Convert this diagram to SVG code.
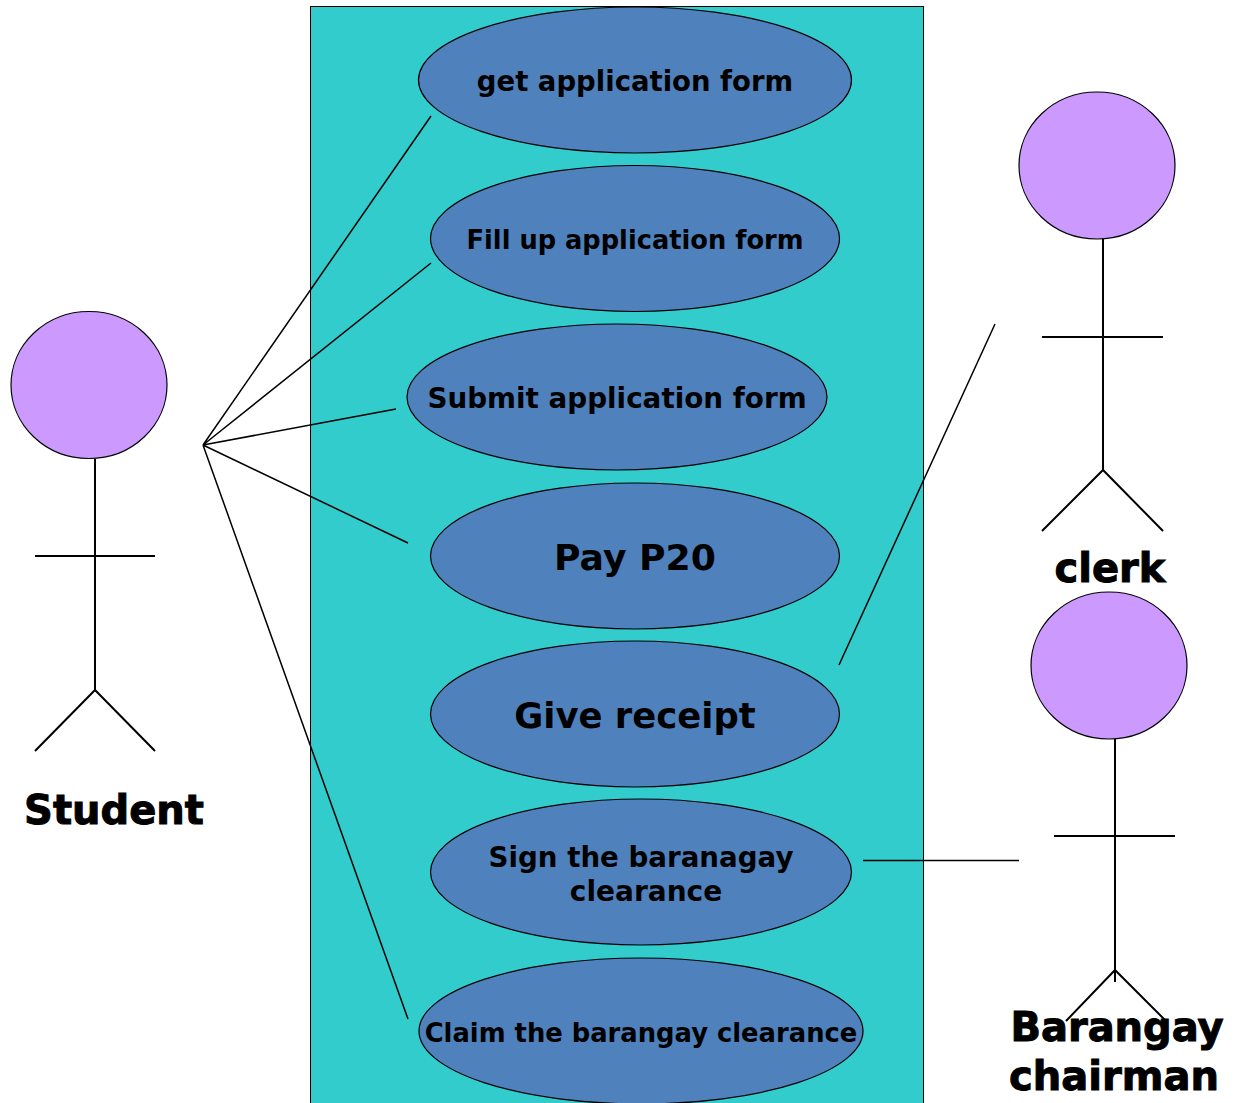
<svg xmlns="http://www.w3.org/2000/svg" width="1238" height="1103" viewBox="0 0 1238 1103">
<style>
.uc{fill:#4f81bd;stroke:#000;stroke-width:1.2}
.head{fill:#cc99ff;stroke:#000;stroke-width:1.2}
.ln{stroke:#000;stroke-width:2;fill:none}
.c{stroke:#000;stroke-width:1.5;fill:none}
text{font-family:"DejaVu Sans",sans-serif;font-weight:bold;fill:#000;text-anchor:middle}
.actor{font-size:40px;stroke:#000;stroke-width:1}
</style>
<rect width="1238" height="1103" fill="#fff"/>
<rect id="boundary" x="310.500" y="6.500" width="613" height="1100" fill="#33cccc" stroke="#000" stroke-width="1"/>
<g id="uc1"><ellipse class="uc" cx="635" cy="80" rx="216.500" ry="73"/><text x="635" y="91" font-size="27.500">get application form</text></g>
<g id="uc2"><ellipse class="uc" cx="635" cy="238.500" rx="204.500" ry="73"/><text x="635" y="248.500" font-size="25.700">Fill up application form</text></g>
<g id="uc3"><ellipse class="uc" cx="617" cy="397" rx="210" ry="73"/><text x="617" y="408" font-size="27.800">Submit application form</text></g>
<g id="uc4"><ellipse class="uc" cx="635" cy="556" rx="204.500" ry="73"/><text x="635" y="569.500" font-size="36.200">Pay P20</text></g>
<g id="uc5"><ellipse class="uc" cx="635" cy="714" rx="204.500" ry="73"/><text x="635" y="728" font-size="35.400">Give receipt</text></g>
<g id="uc6"><ellipse class="uc" cx="641" cy="872" rx="210.500" ry="73"/><text x="641" y="866.500" font-size="27.700">Sign the baranagay</text><text x="646" y="901" font-size="28">clearance</text></g>
<g id="uc7"><ellipse class="uc" cx="641" cy="1031" rx="222" ry="73"/><text x="641" y="1042" font-size="25.800">Claim the barangay clearance</text></g>
<g id="student"><ellipse class="head" cx="89" cy="385" rx="78" ry="73.500"/><path class="ln" d="M95 459V690M35 556H155M35 751L95 690L155 751"/><text class="actor" x="114" y="824">Student</text></g>
<g id="clerk"><ellipse class="head" cx="1097" cy="165.500" rx="78" ry="73.500"/><path class="ln" d="M1103 239V470M1042 337H1163M1042 531L1103 470L1163 531"/><text class="actor" x="1110" y="581.500">clerk</text></g>
<g id="chairman"><ellipse class="head" cx="1109" cy="665.500" rx="78" ry="73.500"/><path class="ln" d="M1115 739V982M1054 836H1175M1066 1021L1115 970L1166 1021"/><text class="actor" x="1117" y="1041">Barangay</text><text class="actor" x="1114" y="1090">chairman</text></g>
<g id="connectors">
<path class="c" d="M203 445L431 116M203 445L431 263M203 445L396 409M203 445L408 543M203 445L408 1019M995 324L839 665M863 860.500H1019"/>
</g>
</svg>
